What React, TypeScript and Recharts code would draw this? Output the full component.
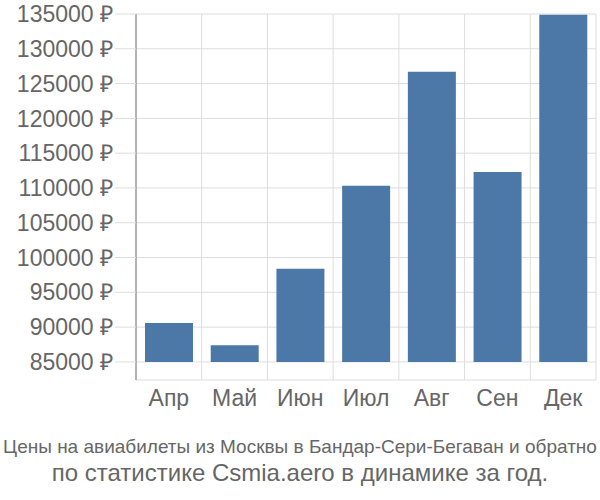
import React from "react";
import { BarChart, Bar, XAxis, YAxis, CartesianGrid } from "recharts";

const months = ["Апр", "Май", "Июн", "Июл", "Авг", "Сен", "Дек"];
const prices = [90600, 87400, 98400, 110300, 126700, 112300, 134900];
const yTicks = [85000, 90000, 95000, 100000, 105000, 110000, 115000, 120000, 125000, 130000, 135000];
const baseline = 85000;

const data = months.map((m, i) => ({ month: m, range: [baseline, prices[i]] }));

const font = "'Liberation Sans', Arial, sans-serif";
const textColor = "#666";

export default function App() {
  return (
    <div style={{ position: "absolute", left: 0, top: 0, width: 600, height: 500, background: "#fff" }}>
      <BarChart width={600} height={410} data={data} margin={{ top: 14, right: 4, left: 0, bottom: 0 }} barCategoryGap={9}>
        <CartesianGrid
          stroke="#dddddd"
          strokeWidth={1}
          verticalCoordinatesGenerator={({ offset }: any) =>
            months.map((_, i) => offset.left + (offset.width * (i + 1)) / months.length)
          }
        />
        <XAxis
          dataKey="month"
          axisLine={false}
          tickLine={false}
          height={30}
          tickMargin={4}
          interval={0}
          tick={{ fontSize: 23, fill: textColor, fontFamily: font }}
        />
        <YAxis
          type="number"
          domain={[82400, 135000]}
          ticks={yTicks}
          interval={0}
          width={136}
          allowDataOverflow
          axisLine={{ stroke: "#999", strokeWidth: 1.5 }}
          tickLine={{ stroke: "#dddddd" }}
          tickSize={21}
          tickMargin={2}
          tickFormatter={(v: number) => `${v} ₽`}
          tick={{ fontSize: 23, fill: textColor, fontFamily: font }}
        />
        <Bar dataKey="range" fill="#4c78a8" isAnimationActive={false} />
      </BarChart>
      <div style={{ textAlign: "center", color: textColor, fontFamily: "'Liberation Sans Narrow', 'Liberation Sans', sans-serif", fontSize: 19, lineHeight: "22px", position: "absolute", top: 436, width: 600, whiteSpace: "nowrap" }}>
        Цены на авиабилеты из Москвы в Бандар-Сери-Бегаван и обратно
      </div>
      <div style={{ textAlign: "center", color: textColor, fontFamily: font, fontSize: 24, lineHeight: "26px", position: "absolute", top: 460, width: 600, whiteSpace: "nowrap" }}>
        по статистике Csmia.aero в динамике за год.
      </div>
    </div>
  );
}
